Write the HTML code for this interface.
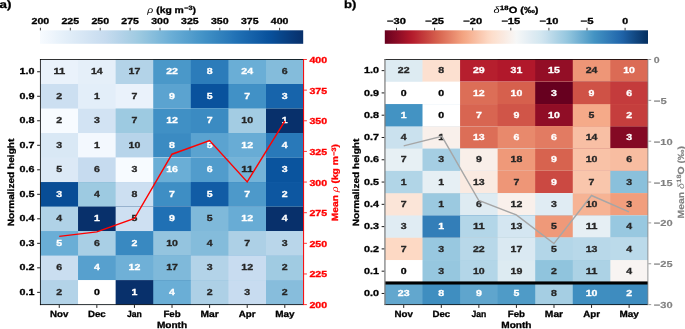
<!DOCTYPE html>
<html lang="en"><head><meta charset="utf-8"><title>Heatmaps</title>
<style>
html,body{margin:0;padding:0;background:#fff;}
body{width:685px;height:329px;overflow:hidden;font-family:"Liberation Sans",sans-serif;}
svg{display:block;will-change:transform;transform:translateZ(0);}
text{font-family:"Liberation Sans",sans-serif;text-rendering:geometricPrecision;}
</style></head><body>
<svg width="685" height="329" viewBox="0 0 685 329" font-family="'Liberation Sans', sans-serif" font-weight="bold">
<defs>
<linearGradient id="gB" x1="0" x2="1" y1="0" y2="0">
<stop offset="0.0000" stop-color="#f7fbff"/>
<stop offset="0.0156" stop-color="#f4f9fe"/>
<stop offset="0.0312" stop-color="#f1f7fd"/>
<stop offset="0.0469" stop-color="#eef5fc"/>
<stop offset="0.0625" stop-color="#eaf3fb"/>
<stop offset="0.0781" stop-color="#e7f1fa"/>
<stop offset="0.0938" stop-color="#e4eff9"/>
<stop offset="0.1094" stop-color="#e1edf8"/>
<stop offset="0.1250" stop-color="#deebf7"/>
<stop offset="0.1406" stop-color="#dbe9f6"/>
<stop offset="0.1562" stop-color="#d8e7f5"/>
<stop offset="0.1719" stop-color="#d5e5f4"/>
<stop offset="0.1875" stop-color="#d2e3f3"/>
<stop offset="0.2031" stop-color="#cfe1f2"/>
<stop offset="0.2188" stop-color="#ccdff1"/>
<stop offset="0.2344" stop-color="#c9ddf0"/>
<stop offset="0.2500" stop-color="#c6dbef"/>
<stop offset="0.2656" stop-color="#c1d9ed"/>
<stop offset="0.2812" stop-color="#bcd7eb"/>
<stop offset="0.2969" stop-color="#b7d4ea"/>
<stop offset="0.3125" stop-color="#b2d2e8"/>
<stop offset="0.3281" stop-color="#add0e6"/>
<stop offset="0.3438" stop-color="#a8cee4"/>
<stop offset="0.3594" stop-color="#a3cce3"/>
<stop offset="0.3750" stop-color="#9dcae1"/>
<stop offset="0.3906" stop-color="#97c6df"/>
<stop offset="0.4062" stop-color="#91c3de"/>
<stop offset="0.4219" stop-color="#8abfdd"/>
<stop offset="0.4375" stop-color="#84bcdb"/>
<stop offset="0.4531" stop-color="#7db8da"/>
<stop offset="0.4688" stop-color="#77b5d9"/>
<stop offset="0.4844" stop-color="#71b1d7"/>
<stop offset="0.5000" stop-color="#6aaed6"/>
<stop offset="0.5156" stop-color="#65aad4"/>
<stop offset="0.5312" stop-color="#60a7d2"/>
<stop offset="0.5469" stop-color="#5ba3d0"/>
<stop offset="0.5625" stop-color="#56a0ce"/>
<stop offset="0.5781" stop-color="#519ccc"/>
<stop offset="0.5938" stop-color="#4b98ca"/>
<stop offset="0.6094" stop-color="#4695c8"/>
<stop offset="0.6250" stop-color="#4191c6"/>
<stop offset="0.6406" stop-color="#3d8dc4"/>
<stop offset="0.6562" stop-color="#3989c1"/>
<stop offset="0.6719" stop-color="#3585bf"/>
<stop offset="0.6875" stop-color="#3181bd"/>
<stop offset="0.7031" stop-color="#2d7dbb"/>
<stop offset="0.7188" stop-color="#2979b9"/>
<stop offset="0.7344" stop-color="#2474b7"/>
<stop offset="0.7500" stop-color="#2070b4"/>
<stop offset="0.7656" stop-color="#1d6cb1"/>
<stop offset="0.7812" stop-color="#1a68ae"/>
<stop offset="0.7969" stop-color="#1764ab"/>
<stop offset="0.8125" stop-color="#1460a8"/>
<stop offset="0.8281" stop-color="#115ca5"/>
<stop offset="0.8438" stop-color="#0e58a2"/>
<stop offset="0.8594" stop-color="#0a549e"/>
<stop offset="0.8750" stop-color="#08509b"/>
<stop offset="0.8906" stop-color="#084c95"/>
<stop offset="0.9062" stop-color="#08488e"/>
<stop offset="0.9219" stop-color="#084488"/>
<stop offset="0.9375" stop-color="#084082"/>
<stop offset="0.9531" stop-color="#083b7c"/>
<stop offset="0.9688" stop-color="#083776"/>
<stop offset="0.9844" stop-color="#083370"/>
<stop offset="1.0000" stop-color="#08306b"/>
</linearGradient>
<linearGradient id="gR" x1="0" x2="1" y1="0" y2="0">
<stop offset="0.0000" stop-color="#67001f"/>
<stop offset="0.0156" stop-color="#730421"/>
<stop offset="0.0312" stop-color="#7f0823"/>
<stop offset="0.0469" stop-color="#8a0b25"/>
<stop offset="0.0625" stop-color="#960f27"/>
<stop offset="0.0781" stop-color="#a21328"/>
<stop offset="0.0938" stop-color="#ae172a"/>
<stop offset="0.1094" stop-color="#b61f2e"/>
<stop offset="0.1250" stop-color="#bb2a34"/>
<stop offset="0.1406" stop-color="#c13639"/>
<stop offset="0.1562" stop-color="#c6413e"/>
<stop offset="0.1719" stop-color="#cc4c44"/>
<stop offset="0.1875" stop-color="#d25849"/>
<stop offset="0.2031" stop-color="#d7634f"/>
<stop offset="0.2188" stop-color="#dc6e57"/>
<stop offset="0.2344" stop-color="#e17860"/>
<stop offset="0.2500" stop-color="#e58368"/>
<stop offset="0.2656" stop-color="#ea8e70"/>
<stop offset="0.2812" stop-color="#ef9979"/>
<stop offset="0.2969" stop-color="#f3a481"/>
<stop offset="0.3125" stop-color="#f5ac8b"/>
<stop offset="0.3281" stop-color="#f7b596"/>
<stop offset="0.3438" stop-color="#f8bda1"/>
<stop offset="0.3594" stop-color="#f9c6ac"/>
<stop offset="0.3750" stop-color="#fbceb7"/>
<stop offset="0.3906" stop-color="#fcd7c2"/>
<stop offset="0.4062" stop-color="#fdddcb"/>
<stop offset="0.4219" stop-color="#fce2d2"/>
<stop offset="0.4375" stop-color="#fbe6da"/>
<stop offset="0.4531" stop-color="#faeae1"/>
<stop offset="0.4688" stop-color="#f9efe9"/>
<stop offset="0.4844" stop-color="#f8f3f0"/>
<stop offset="0.5000" stop-color="#f6f7f7"/>
<stop offset="0.5156" stop-color="#f0f4f6"/>
<stop offset="0.5312" stop-color="#eaf1f5"/>
<stop offset="0.5469" stop-color="#e4eef4"/>
<stop offset="0.5625" stop-color="#deebf2"/>
<stop offset="0.5781" stop-color="#d8e9f1"/>
<stop offset="0.5938" stop-color="#d2e6f0"/>
<stop offset="0.6094" stop-color="#cae1ee"/>
<stop offset="0.6250" stop-color="#c0dceb"/>
<stop offset="0.6406" stop-color="#b6d7e8"/>
<stop offset="0.6562" stop-color="#acd2e5"/>
<stop offset="0.6719" stop-color="#a2cde3"/>
<stop offset="0.6875" stop-color="#98c8e0"/>
<stop offset="0.7031" stop-color="#8dc2dc"/>
<stop offset="0.7188" stop-color="#81bad8"/>
<stop offset="0.7344" stop-color="#75b2d4"/>
<stop offset="0.7500" stop-color="#68abd0"/>
<stop offset="0.7656" stop-color="#5ca3cb"/>
<stop offset="0.7812" stop-color="#4f9bc7"/>
<stop offset="0.7969" stop-color="#4393c3"/>
<stop offset="0.8125" stop-color="#3e8cbf"/>
<stop offset="0.8281" stop-color="#3885bc"/>
<stop offset="0.8438" stop-color="#337eb8"/>
<stop offset="0.8594" stop-color="#2e77b5"/>
<stop offset="0.8750" stop-color="#2870b1"/>
<stop offset="0.8906" stop-color="#2369ad"/>
<stop offset="0.9062" stop-color="#1e61a5"/>
<stop offset="0.9219" stop-color="#1a5899"/>
<stop offset="0.9375" stop-color="#15508d"/>
<stop offset="0.9531" stop-color="#114781"/>
<stop offset="0.9688" stop-color="#0d3f76"/>
<stop offset="0.9844" stop-color="#08366a"/>
<stop offset="1.0000" stop-color="#053061"/>
</linearGradient>
</defs>
<rect width="685" height="329" fill="#fff"/>
<rect x="40.45" y="59.50" width="263.15" height="245.10" fill="#eaf2fb"/>
<rect x="78.04" y="59.50" width="225.56" height="245.10" fill="#e5eff9"/>
<rect x="115.64" y="59.50" width="187.96" height="245.10" fill="#b3d3e8"/>
<rect x="153.23" y="59.50" width="150.37" height="245.10" fill="#4a98c9"/>
<rect x="190.82" y="59.50" width="112.78" height="245.10" fill="#2c7cba"/>
<rect x="228.41" y="59.50" width="75.19" height="245.10" fill="#6aaed6"/>
<rect x="266.01" y="59.50" width="37.59" height="245.10" fill="#84bcdb"/>
<rect x="40.45" y="84.01" width="263.15" height="220.59" fill="#ccdff1"/>
<rect x="78.04" y="84.01" width="225.56" height="220.59" fill="#e3eef9"/>
<rect x="115.64" y="84.01" width="187.96" height="220.59" fill="#eaf2fb"/>
<rect x="153.23" y="84.01" width="150.37" height="220.59" fill="#5ba3d0"/>
<rect x="190.82" y="84.01" width="112.78" height="220.59" fill="#09529d"/>
<rect x="228.41" y="84.01" width="75.19" height="220.59" fill="#4191c6"/>
<rect x="266.01" y="84.01" width="37.59" height="220.59" fill="#1764ab"/>
<rect x="40.45" y="108.52" width="263.15" height="196.08" fill="#f7fbff"/>
<rect x="78.04" y="108.52" width="225.56" height="196.08" fill="#d2e3f3"/>
<rect x="115.64" y="108.52" width="187.96" height="196.08" fill="#9dcae1"/>
<rect x="153.23" y="108.52" width="150.37" height="196.08" fill="#4090c5"/>
<rect x="190.82" y="108.52" width="112.78" height="196.08" fill="#3b8bc2"/>
<rect x="228.41" y="108.52" width="75.19" height="196.08" fill="#a3cce3"/>
<rect x="266.01" y="108.52" width="37.59" height="196.08" fill="#08306b"/>
<rect x="40.45" y="133.03" width="263.15" height="171.57" fill="#d9e8f5"/>
<rect x="78.04" y="133.03" width="225.56" height="171.57" fill="#f3f8fe"/>
<rect x="115.64" y="133.03" width="187.96" height="171.57" fill="#b7d4ea"/>
<rect x="153.23" y="133.03" width="150.37" height="171.57" fill="#3b8bc2"/>
<rect x="190.82" y="133.03" width="112.78" height="171.57" fill="#5ba3d0"/>
<rect x="228.41" y="133.03" width="75.19" height="171.57" fill="#68acd5"/>
<rect x="266.01" y="133.03" width="37.59" height="171.57" fill="#2979b9"/>
<rect x="40.45" y="157.54" width="263.15" height="147.06" fill="#dce9f6"/>
<rect x="78.04" y="157.54" width="225.56" height="147.06" fill="#c6dbef"/>
<rect x="115.64" y="157.54" width="187.96" height="147.06" fill="#f7fbff"/>
<rect x="153.23" y="157.54" width="150.37" height="147.06" fill="#6aaed6"/>
<rect x="190.82" y="157.54" width="112.78" height="147.06" fill="#519ccc"/>
<rect x="228.41" y="157.54" width="75.19" height="147.06" fill="#74b3d8"/>
<rect x="266.01" y="157.54" width="37.59" height="147.06" fill="#0a549e"/>
<rect x="40.45" y="182.05" width="263.15" height="122.55" fill="#084d96"/>
<rect x="78.04" y="182.05" width="225.56" height="122.55" fill="#9dcae1"/>
<rect x="115.64" y="182.05" width="187.96" height="122.55" fill="#ccdff1"/>
<rect x="153.23" y="182.05" width="150.37" height="122.55" fill="#3e8ec4"/>
<rect x="190.82" y="182.05" width="112.78" height="122.55" fill="#115ca5"/>
<rect x="228.41" y="182.05" width="75.19" height="122.55" fill="#4d99ca"/>
<rect x="266.01" y="182.05" width="37.59" height="122.55" fill="#0d57a1"/>
<rect x="40.45" y="206.56" width="263.15" height="98.04" fill="#b0d2e7"/>
<rect x="78.04" y="206.56" width="225.56" height="98.04" fill="#08306b"/>
<rect x="115.64" y="206.56" width="187.96" height="98.04" fill="#cee0f2"/>
<rect x="153.23" y="206.56" width="150.37" height="98.04" fill="#2070b4"/>
<rect x="190.82" y="206.56" width="112.78" height="98.04" fill="#7fb9da"/>
<rect x="228.41" y="206.56" width="75.19" height="98.04" fill="#68acd5"/>
<rect x="266.01" y="206.56" width="37.59" height="98.04" fill="#08306b"/>
<rect x="40.45" y="231.07" width="263.15" height="73.53" fill="#6aaed6"/>
<rect x="78.04" y="231.07" width="225.56" height="73.53" fill="#a9cfe5"/>
<rect x="115.64" y="231.07" width="187.96" height="73.53" fill="#3989c1"/>
<rect x="153.23" y="231.07" width="150.37" height="73.53" fill="#94c4df"/>
<rect x="190.82" y="231.07" width="112.78" height="73.53" fill="#84bcdb"/>
<rect x="228.41" y="231.07" width="75.19" height="73.53" fill="#add0e6"/>
<rect x="266.01" y="231.07" width="37.59" height="73.53" fill="#b9d6ea"/>
<rect x="40.45" y="255.58" width="263.15" height="49.02" fill="#cadef0"/>
<rect x="78.04" y="255.58" width="225.56" height="49.02" fill="#57a0ce"/>
<rect x="115.64" y="255.58" width="187.96" height="49.02" fill="#6fb0d7"/>
<rect x="153.23" y="255.58" width="150.37" height="49.02" fill="#7fb9da"/>
<rect x="190.82" y="255.58" width="112.78" height="49.02" fill="#b3d3e8"/>
<rect x="228.41" y="255.58" width="75.19" height="49.02" fill="#c8dcf0"/>
<rect x="266.01" y="255.58" width="37.59" height="49.02" fill="#a0cbe2"/>
<rect x="40.45" y="280.09" width="263.15" height="24.51" fill="#b3d3e8"/>
<rect x="78.04" y="280.09" width="225.56" height="24.51" fill="#ffffff"/>
<rect x="115.64" y="280.09" width="187.96" height="24.51" fill="#08306b"/>
<rect x="153.23" y="280.09" width="150.37" height="24.51" fill="#6aaed6"/>
<rect x="190.82" y="280.09" width="112.78" height="24.51" fill="#add0e6"/>
<rect x="228.41" y="280.09" width="75.19" height="24.51" fill="#c8dcf0"/>
<rect x="266.01" y="280.09" width="37.59" height="24.51" fill="#87bddc"/>
<g stroke="#000" stroke-width="0.8" fill="none">
<line x1="40.45" y1="59.00" x2="40.45" y2="305.10"/>
<line x1="39.95" y1="59.50" x2="303.60" y2="59.50"/>
<line x1="39.95" y1="304.60" x2="303.60" y2="304.60"/>
<line x1="37.15" y1="71.75" x2="39.95" y2="71.75" stroke-width="0.9"/>
<line x1="37.15" y1="96.27" x2="39.95" y2="96.27" stroke-width="0.9"/>
<line x1="37.15" y1="120.78" x2="39.95" y2="120.78" stroke-width="0.9"/>
<line x1="37.15" y1="145.29" x2="39.95" y2="145.29" stroke-width="0.9"/>
<line x1="37.15" y1="169.80" x2="39.95" y2="169.80" stroke-width="0.9"/>
<line x1="37.15" y1="194.31" x2="39.95" y2="194.31" stroke-width="0.9"/>
<line x1="37.15" y1="218.81" x2="39.95" y2="218.81" stroke-width="0.9"/>
<line x1="37.15" y1="243.33" x2="39.95" y2="243.33" stroke-width="0.9"/>
<line x1="37.15" y1="267.84" x2="39.95" y2="267.84" stroke-width="0.9"/>
<line x1="37.15" y1="292.35" x2="39.95" y2="292.35" stroke-width="0.9"/>
<line x1="59.25" y1="305.10" x2="59.25" y2="307.90" stroke-width="0.9"/>
<line x1="96.84" y1="305.10" x2="96.84" y2="307.90" stroke-width="0.9"/>
<line x1="134.43" y1="305.10" x2="134.43" y2="307.90" stroke-width="0.9"/>
<line x1="172.03" y1="305.10" x2="172.03" y2="307.90" stroke-width="0.9"/>
<line x1="209.62" y1="305.10" x2="209.62" y2="307.90" stroke-width="0.9"/>
<line x1="247.21" y1="305.10" x2="247.21" y2="307.90" stroke-width="0.9"/>
<line x1="284.80" y1="305.10" x2="284.80" y2="307.90" stroke-width="0.9"/>
</g>
<g stroke="#ff0000" stroke-width="1" fill="none">
<line x1="303.60" y1="59.00" x2="303.60" y2="305.10"/>
<line x1="304.10" y1="304.60" x2="306.90" y2="304.60" stroke-width="0.8"/>
<line x1="304.10" y1="273.96" x2="306.90" y2="273.96" stroke-width="0.8"/>
<line x1="304.10" y1="243.32" x2="306.90" y2="243.32" stroke-width="0.8"/>
<line x1="304.10" y1="212.69" x2="306.90" y2="212.69" stroke-width="0.8"/>
<line x1="304.10" y1="182.05" x2="306.90" y2="182.05" stroke-width="0.8"/>
<line x1="304.10" y1="151.41" x2="306.90" y2="151.41" stroke-width="0.8"/>
<line x1="304.10" y1="120.78" x2="306.90" y2="120.78" stroke-width="0.8"/>
<line x1="304.10" y1="90.14" x2="306.90" y2="90.14" stroke-width="0.8"/>
<line x1="304.10" y1="59.50" x2="306.90" y2="59.50" stroke-width="0.8"/>
</g>
<rect x="384.95" y="59.50" width="262.95" height="245.10" fill="#ddebf2"/>
<rect x="422.51" y="59.50" width="225.39" height="245.10" fill="#fce0d0"/>
<rect x="460.08" y="59.50" width="187.82" height="245.10" fill="#b61f2e"/>
<rect x="497.64" y="59.50" width="150.26" height="245.10" fill="#b1182b"/>
<rect x="535.21" y="59.50" width="112.69" height="245.10" fill="#930e26"/>
<rect x="572.77" y="59.50" width="75.13" height="245.10" fill="#ee9677"/>
<rect x="610.34" y="59.50" width="37.56" height="245.10" fill="#db6b55"/>
<rect x="384.95" y="81.78" width="262.95" height="222.82" fill="#ffffff"/>
<rect x="422.51" y="81.78" width="225.39" height="222.82" fill="#ffffff"/>
<rect x="460.08" y="81.78" width="187.82" height="222.82" fill="#dc6e57"/>
<rect x="497.64" y="81.78" width="150.26" height="222.82" fill="#d6604d"/>
<rect x="535.21" y="81.78" width="112.69" height="222.82" fill="#67001f"/>
<rect x="572.77" y="81.78" width="75.13" height="222.82" fill="#cf5246"/>
<rect x="610.34" y="81.78" width="37.56" height="222.82" fill="#c43b3c"/>
<rect x="384.95" y="104.06" width="262.95" height="200.54" fill="#4393c3"/>
<rect x="422.51" y="104.06" width="225.39" height="200.54" fill="#ffffff"/>
<rect x="460.08" y="104.06" width="187.82" height="200.54" fill="#d86551"/>
<rect x="497.64" y="104.06" width="150.26" height="200.54" fill="#d05548"/>
<rect x="535.21" y="104.06" width="112.69" height="200.54" fill="#900d26"/>
<rect x="572.77" y="104.06" width="75.13" height="200.54" fill="#f5aa89"/>
<rect x="610.34" y="104.06" width="37.56" height="200.54" fill="#c53e3d"/>
<rect x="384.95" y="126.35" width="262.95" height="178.25" fill="#cae1ee"/>
<rect x="422.51" y="126.35" width="225.39" height="178.25" fill="#f9f0eb"/>
<rect x="460.08" y="126.35" width="187.82" height="178.25" fill="#dc6e57"/>
<rect x="497.64" y="126.35" width="150.26" height="178.25" fill="#e8896c"/>
<rect x="535.21" y="126.35" width="112.69" height="178.25" fill="#e27b62"/>
<rect x="572.77" y="126.35" width="75.13" height="178.25" fill="#f8bfa4"/>
<rect x="610.34" y="126.35" width="37.56" height="178.25" fill="#840924"/>
<rect x="384.95" y="148.63" width="262.95" height="155.97" fill="#e7f0f4"/>
<rect x="422.51" y="148.63" width="225.39" height="155.97" fill="#a5cee3"/>
<rect x="460.08" y="148.63" width="187.82" height="155.97" fill="#f9efe9"/>
<rect x="497.64" y="148.63" width="150.26" height="155.97" fill="#ef9979"/>
<rect x="535.21" y="148.63" width="112.69" height="155.97" fill="#d7634f"/>
<rect x="572.77" y="148.63" width="75.13" height="155.97" fill="#f9c2a7"/>
<rect x="610.34" y="148.63" width="37.56" height="155.97" fill="#f8bda1"/>
<rect x="384.95" y="170.91" width="262.95" height="133.69" fill="#b1d5e7"/>
<rect x="422.51" y="170.91" width="225.39" height="133.69" fill="#e6eff4"/>
<rect x="460.08" y="170.91" width="187.82" height="133.69" fill="#faeae1"/>
<rect x="497.64" y="170.91" width="150.26" height="133.69" fill="#ee9677"/>
<rect x="535.21" y="170.91" width="112.69" height="133.69" fill="#cb4942"/>
<rect x="572.77" y="170.91" width="75.13" height="133.69" fill="#f9c6ac"/>
<rect x="610.34" y="170.91" width="37.56" height="133.69" fill="#8ac0db"/>
<rect x="384.95" y="193.19" width="262.95" height="111.41" fill="#fbe5d8"/>
<rect x="422.51" y="193.19" width="225.39" height="111.41" fill="#9bc9e0"/>
<rect x="460.08" y="193.19" width="187.82" height="111.41" fill="#deebf2"/>
<rect x="497.64" y="193.19" width="150.26" height="111.41" fill="#f9f0eb"/>
<rect x="535.21" y="193.19" width="112.69" height="111.41" fill="#e0ecf3"/>
<rect x="572.77" y="193.19" width="75.13" height="111.41" fill="#f6b394"/>
<rect x="610.34" y="193.19" width="37.56" height="111.41" fill="#f19e7d"/>
<rect x="384.95" y="215.47" width="262.95" height="89.13" fill="#e0ecf3"/>
<rect x="422.51" y="215.47" width="225.39" height="89.13" fill="#337eb8"/>
<rect x="460.08" y="215.47" width="187.82" height="89.13" fill="#b3d6e8"/>
<rect x="497.64" y="215.47" width="150.26" height="89.13" fill="#d4e6f1"/>
<rect x="535.21" y="215.47" width="112.69" height="89.13" fill="#ef9979"/>
<rect x="572.77" y="215.47" width="75.13" height="89.13" fill="#e6eff4"/>
<rect x="610.34" y="215.47" width="37.56" height="89.13" fill="#98c8e0"/>
<rect x="384.95" y="237.75" width="262.95" height="66.85" fill="#fdd9c4"/>
<rect x="422.51" y="237.75" width="225.39" height="66.85" fill="#98c8e0"/>
<rect x="460.08" y="237.75" width="187.82" height="66.85" fill="#b8d8e9"/>
<rect x="497.64" y="237.75" width="150.26" height="66.85" fill="#dae9f2"/>
<rect x="535.21" y="237.75" width="112.69" height="66.85" fill="#b3d6e8"/>
<rect x="572.77" y="237.75" width="75.13" height="66.85" fill="#b8d8e9"/>
<rect x="610.34" y="237.75" width="37.56" height="66.85" fill="#bbdaea"/>
<rect x="384.95" y="260.04" width="262.95" height="44.56" fill="#ffffff"/>
<rect x="422.51" y="260.04" width="225.39" height="44.56" fill="#96c7df"/>
<rect x="460.08" y="260.04" width="187.82" height="44.56" fill="#b3d6e8"/>
<rect x="497.64" y="260.04" width="150.26" height="44.56" fill="#ddebf2"/>
<rect x="535.21" y="260.04" width="112.69" height="44.56" fill="#90c4dd"/>
<rect x="572.77" y="260.04" width="75.13" height="44.56" fill="#acd2e5"/>
<rect x="610.34" y="260.04" width="37.56" height="44.56" fill="#f8f4f2"/>
<rect x="384.95" y="282.32" width="262.95" height="22.28" fill="#62a7ce"/>
<rect x="422.51" y="282.32" width="225.39" height="22.28" fill="#3f8ec0"/>
<rect x="460.08" y="282.32" width="187.82" height="22.28" fill="#5fa5cd"/>
<rect x="497.64" y="282.32" width="150.26" height="22.28" fill="#4f9bc7"/>
<rect x="535.21" y="282.32" width="112.69" height="22.28" fill="#a5cee3"/>
<rect x="572.77" y="282.32" width="75.13" height="22.28" fill="#3f8ec0"/>
<rect x="610.34" y="282.32" width="37.56" height="22.28" fill="#3e8cbf"/>
<rect x="384.95" y="281.42" width="262.95" height="3.1" fill="#000"/>
<g stroke="#000" stroke-width="0.8" fill="none">
<line x1="384.45" y1="59.50" x2="647.90" y2="59.50"/>
<line x1="384.45" y1="304.60" x2="647.90" y2="304.60"/>
<line x1="381.65" y1="70.64" x2="384.45" y2="70.64" stroke-width="0.9"/>
<line x1="381.65" y1="92.92" x2="384.45" y2="92.92" stroke-width="0.9"/>
<line x1="381.65" y1="115.20" x2="384.45" y2="115.20" stroke-width="0.9"/>
<line x1="381.65" y1="137.49" x2="384.45" y2="137.49" stroke-width="0.9"/>
<line x1="381.65" y1="159.77" x2="384.45" y2="159.77" stroke-width="0.9"/>
<line x1="381.65" y1="182.05" x2="384.45" y2="182.05" stroke-width="0.9"/>
<line x1="381.65" y1="204.33" x2="384.45" y2="204.33" stroke-width="0.9"/>
<line x1="381.65" y1="226.61" x2="384.45" y2="226.61" stroke-width="0.9"/>
<line x1="381.65" y1="248.90" x2="384.45" y2="248.90" stroke-width="0.9"/>
<line x1="381.65" y1="271.18" x2="384.45" y2="271.18" stroke-width="0.9"/>
<line x1="381.65" y1="293.46" x2="384.45" y2="293.46" stroke-width="0.9"/>
<line x1="403.73" y1="305.10" x2="403.73" y2="307.90" stroke-width="0.9"/>
<line x1="441.30" y1="305.10" x2="441.30" y2="307.90" stroke-width="0.9"/>
<line x1="478.86" y1="305.10" x2="478.86" y2="307.90" stroke-width="0.9"/>
<line x1="516.42" y1="305.10" x2="516.42" y2="307.90" stroke-width="0.9"/>
<line x1="553.99" y1="305.10" x2="553.99" y2="307.90" stroke-width="0.9"/>
<line x1="591.55" y1="305.10" x2="591.55" y2="307.90" stroke-width="0.9"/>
<line x1="629.12" y1="305.10" x2="629.12" y2="307.90" stroke-width="0.9"/>
</g>
<g stroke="#808080" stroke-width="0.8" fill="none">
<line x1="647.90" y1="59.00" x2="647.90" y2="305.10"/>
<line x1="648.40" y1="304.60" x2="651.20" y2="304.60" stroke-width="0.8"/>
<line x1="648.40" y1="263.75" x2="651.20" y2="263.75" stroke-width="0.8"/>
<line x1="648.40" y1="222.90" x2="651.20" y2="222.90" stroke-width="0.8"/>
<line x1="648.40" y1="182.05" x2="651.20" y2="182.05" stroke-width="0.8"/>
<line x1="648.40" y1="141.20" x2="651.20" y2="141.20" stroke-width="0.8"/>
<line x1="648.40" y1="100.35" x2="651.20" y2="100.35" stroke-width="0.8"/>
<line x1="648.40" y1="59.50" x2="651.20" y2="59.50" stroke-width="0.8"/>
</g>
<line x1="384.95" y1="59.00" x2="384.95" y2="305.10" stroke="#7a7a7a" stroke-width="1.2"/>
<rect x="40.00" y="30.3" width="263.20" height="13.5" fill="url(#gB)"/>
<line x1="40.40" y1="27.8" x2="40.40" y2="30.4" stroke="#000" stroke-width="0.75"/>
<text transform="translate(40.40,23.75) scale(1.2151,1)" text-anchor="middle" font-size="8.70" fill="#000" stroke="#000" stroke-width="0.3">200</text>
<line x1="70.30" y1="27.8" x2="70.30" y2="30.4" stroke="#000" stroke-width="0.75"/>
<text transform="translate(70.30,23.75) scale(1.2151,1)" text-anchor="middle" font-size="8.70" fill="#000" stroke="#000" stroke-width="0.3">225</text>
<line x1="100.20" y1="27.8" x2="100.20" y2="30.4" stroke="#000" stroke-width="0.75"/>
<text transform="translate(100.20,23.75) scale(1.2151,1)" text-anchor="middle" font-size="8.70" fill="#000" stroke="#000" stroke-width="0.3">250</text>
<line x1="130.10" y1="27.8" x2="130.10" y2="30.4" stroke="#000" stroke-width="0.75"/>
<text transform="translate(130.10,23.75) scale(1.2151,1)" text-anchor="middle" font-size="8.70" fill="#000" stroke="#000" stroke-width="0.3">275</text>
<line x1="160.00" y1="27.8" x2="160.00" y2="30.4" stroke="#000" stroke-width="0.75"/>
<text transform="translate(160.00,23.75) scale(1.2151,1)" text-anchor="middle" font-size="8.70" fill="#000" stroke="#000" stroke-width="0.3">300</text>
<line x1="189.90" y1="27.8" x2="189.90" y2="30.4" stroke="#000" stroke-width="0.75"/>
<text transform="translate(189.90,23.75) scale(1.2151,1)" text-anchor="middle" font-size="8.70" fill="#000" stroke="#000" stroke-width="0.3">325</text>
<line x1="219.80" y1="27.8" x2="219.80" y2="30.4" stroke="#000" stroke-width="0.75"/>
<text transform="translate(219.80,23.75) scale(1.2151,1)" text-anchor="middle" font-size="8.70" fill="#000" stroke="#000" stroke-width="0.3">350</text>
<line x1="249.70" y1="27.8" x2="249.70" y2="30.4" stroke="#000" stroke-width="0.75"/>
<text transform="translate(249.70,23.75) scale(1.2151,1)" text-anchor="middle" font-size="8.70" fill="#000" stroke="#000" stroke-width="0.3">375</text>
<line x1="279.60" y1="27.8" x2="279.60" y2="30.4" stroke="#000" stroke-width="0.75"/>
<text transform="translate(279.60,23.75) scale(1.2151,1)" text-anchor="middle" font-size="8.70" fill="#000" stroke="#000" stroke-width="0.3">400</text>
<rect x="384.80" y="30.3" width="263.20" height="13.5" fill="url(#gR)"/>
<line x1="396.50" y1="27.8" x2="396.50" y2="30.4" stroke="#000" stroke-width="0.75"/>
<text transform="translate(396.50,23.75) scale(1.2765,1)" text-anchor="middle" font-size="8.70" fill="#000" stroke="#000" stroke-width="0.3">−30</text>
<line x1="434.60" y1="27.8" x2="434.60" y2="30.4" stroke="#000" stroke-width="0.75"/>
<text transform="translate(434.60,23.75) scale(1.2765,1)" text-anchor="middle" font-size="8.70" fill="#000" stroke="#000" stroke-width="0.3">−25</text>
<line x1="472.70" y1="27.8" x2="472.70" y2="30.4" stroke="#000" stroke-width="0.75"/>
<text transform="translate(472.70,23.75) scale(1.2765,1)" text-anchor="middle" font-size="8.70" fill="#000" stroke="#000" stroke-width="0.3">−20</text>
<line x1="510.80" y1="27.8" x2="510.80" y2="30.4" stroke="#000" stroke-width="0.75"/>
<text transform="translate(510.80,23.75) scale(1.2765,1)" text-anchor="middle" font-size="8.70" fill="#000" stroke="#000" stroke-width="0.3">−15</text>
<line x1="548.90" y1="27.8" x2="548.90" y2="30.4" stroke="#000" stroke-width="0.75"/>
<text transform="translate(548.90,23.75) scale(1.2765,1)" text-anchor="middle" font-size="8.70" fill="#000" stroke="#000" stroke-width="0.3">−10</text>
<line x1="587.00" y1="27.8" x2="587.00" y2="30.4" stroke="#000" stroke-width="0.75"/>
<text transform="translate(587.00,23.75) scale(1.3065,1)" text-anchor="middle" font-size="8.70" fill="#000" stroke="#000" stroke-width="0.3">−5</text>
<line x1="625.10" y1="27.8" x2="625.10" y2="30.4" stroke="#000" stroke-width="0.75"/>
<text transform="translate(625.10,23.75) scale(1.2151,1)" text-anchor="middle" font-size="8.70" fill="#000" stroke="#000" stroke-width="0.3">0</text>
<text transform="translate(59.25,74.35) scale(1.2785,1)" text-anchor="middle" font-size="8.70" fill="#262626" stroke="#262626" stroke-width="0.3">11</text>
<text transform="translate(96.84,74.35) scale(1.2151,1)" text-anchor="middle" font-size="8.70" fill="#262626" stroke="#262626" stroke-width="0.3">14</text>
<text transform="translate(134.43,74.35) scale(1.2151,1)" text-anchor="middle" font-size="8.70" fill="#262626" stroke="#262626" stroke-width="0.3">17</text>
<text transform="translate(172.03,74.35) scale(1.2151,1)" text-anchor="middle" font-size="8.70" fill="#fff" stroke="#fff" stroke-width="0.3">22</text>
<text transform="translate(209.62,74.35) scale(1.2151,1)" text-anchor="middle" font-size="8.70" fill="#fff" stroke="#fff" stroke-width="0.3">8</text>
<text transform="translate(247.21,74.35) scale(1.2151,1)" text-anchor="middle" font-size="8.70" fill="#fff" stroke="#fff" stroke-width="0.3">24</text>
<text transform="translate(284.80,74.35) scale(1.2151,1)" text-anchor="middle" font-size="8.70" fill="#262626" stroke="#262626" stroke-width="0.3">6</text>
<text transform="translate(59.25,98.86) scale(1.2151,1)" text-anchor="middle" font-size="8.70" fill="#262626" stroke="#262626" stroke-width="0.3">2</text>
<text transform="translate(96.84,98.86) scale(1.2151,1)" text-anchor="middle" font-size="8.70" fill="#262626" stroke="#262626" stroke-width="0.3">1</text>
<text transform="translate(134.43,98.86) scale(1.2151,1)" text-anchor="middle" font-size="8.70" fill="#262626" stroke="#262626" stroke-width="0.3">7</text>
<text transform="translate(172.03,98.86) scale(1.2151,1)" text-anchor="middle" font-size="8.70" fill="#fff" stroke="#fff" stroke-width="0.3">9</text>
<text transform="translate(209.62,98.86) scale(1.2151,1)" text-anchor="middle" font-size="8.70" fill="#fff" stroke="#fff" stroke-width="0.3">5</text>
<text transform="translate(247.21,98.86) scale(1.2151,1)" text-anchor="middle" font-size="8.70" fill="#fff" stroke="#fff" stroke-width="0.3">7</text>
<text transform="translate(284.80,98.86) scale(1.2151,1)" text-anchor="middle" font-size="8.70" fill="#fff" stroke="#fff" stroke-width="0.3">3</text>
<text transform="translate(59.25,123.38) scale(1.2151,1)" text-anchor="middle" font-size="8.70" fill="#262626" stroke="#262626" stroke-width="0.3">2</text>
<text transform="translate(96.84,123.38) scale(1.2151,1)" text-anchor="middle" font-size="8.70" fill="#262626" stroke="#262626" stroke-width="0.3">3</text>
<text transform="translate(134.43,123.38) scale(1.2151,1)" text-anchor="middle" font-size="8.70" fill="#262626" stroke="#262626" stroke-width="0.3">7</text>
<text transform="translate(172.03,123.38) scale(1.2151,1)" text-anchor="middle" font-size="8.70" fill="#fff" stroke="#fff" stroke-width="0.3">12</text>
<text transform="translate(209.62,123.38) scale(1.2151,1)" text-anchor="middle" font-size="8.70" fill="#fff" stroke="#fff" stroke-width="0.3">7</text>
<text transform="translate(247.21,123.38) scale(1.2151,1)" text-anchor="middle" font-size="8.70" fill="#262626" stroke="#262626" stroke-width="0.3">10</text>
<text transform="translate(284.80,123.38) scale(1.2151,1)" text-anchor="middle" font-size="8.70" fill="#fff" stroke="#fff" stroke-width="0.3">1</text>
<text transform="translate(59.25,147.89) scale(1.2151,1)" text-anchor="middle" font-size="8.70" fill="#262626" stroke="#262626" stroke-width="0.3">3</text>
<text transform="translate(96.84,147.89) scale(1.2151,1)" text-anchor="middle" font-size="8.70" fill="#262626" stroke="#262626" stroke-width="0.3">1</text>
<text transform="translate(134.43,147.89) scale(1.2151,1)" text-anchor="middle" font-size="8.70" fill="#262626" stroke="#262626" stroke-width="0.3">10</text>
<text transform="translate(172.03,147.89) scale(1.2151,1)" text-anchor="middle" font-size="8.70" fill="#fff" stroke="#fff" stroke-width="0.3">8</text>
<text transform="translate(209.62,147.89) scale(1.2151,1)" text-anchor="middle" font-size="8.70" fill="#fff" stroke="#fff" stroke-width="0.3">5</text>
<text transform="translate(247.21,147.89) scale(1.2151,1)" text-anchor="middle" font-size="8.70" fill="#fff" stroke="#fff" stroke-width="0.3">12</text>
<text transform="translate(284.80,147.89) scale(1.2151,1)" text-anchor="middle" font-size="8.70" fill="#fff" stroke="#fff" stroke-width="0.3">4</text>
<text transform="translate(59.25,172.40) scale(1.2151,1)" text-anchor="middle" font-size="8.70" fill="#262626" stroke="#262626" stroke-width="0.3">5</text>
<text transform="translate(96.84,172.40) scale(1.2151,1)" text-anchor="middle" font-size="8.70" fill="#262626" stroke="#262626" stroke-width="0.3">6</text>
<text transform="translate(134.43,172.40) scale(1.2151,1)" text-anchor="middle" font-size="8.70" fill="#262626" stroke="#262626" stroke-width="0.3">3</text>
<text transform="translate(172.03,172.40) scale(1.2151,1)" text-anchor="middle" font-size="8.70" fill="#fff" stroke="#fff" stroke-width="0.3">16</text>
<text transform="translate(209.62,172.40) scale(1.2151,1)" text-anchor="middle" font-size="8.70" fill="#fff" stroke="#fff" stroke-width="0.3">6</text>
<text transform="translate(247.21,172.40) scale(1.2785,1)" text-anchor="middle" font-size="8.70" fill="#262626" stroke="#262626" stroke-width="0.3">11</text>
<text transform="translate(284.80,172.40) scale(1.2151,1)" text-anchor="middle" font-size="8.70" fill="#fff" stroke="#fff" stroke-width="0.3">3</text>
<text transform="translate(59.25,196.91) scale(1.2151,1)" text-anchor="middle" font-size="8.70" fill="#fff" stroke="#fff" stroke-width="0.3">3</text>
<text transform="translate(96.84,196.91) scale(1.2151,1)" text-anchor="middle" font-size="8.70" fill="#262626" stroke="#262626" stroke-width="0.3">4</text>
<text transform="translate(134.43,196.91) scale(1.2151,1)" text-anchor="middle" font-size="8.70" fill="#262626" stroke="#262626" stroke-width="0.3">8</text>
<text transform="translate(172.03,196.91) scale(1.2151,1)" text-anchor="middle" font-size="8.70" fill="#fff" stroke="#fff" stroke-width="0.3">7</text>
<text transform="translate(209.62,196.91) scale(1.2151,1)" text-anchor="middle" font-size="8.70" fill="#fff" stroke="#fff" stroke-width="0.3">5</text>
<text transform="translate(247.21,196.91) scale(1.2151,1)" text-anchor="middle" font-size="8.70" fill="#fff" stroke="#fff" stroke-width="0.3">7</text>
<text transform="translate(284.80,196.91) scale(1.2151,1)" text-anchor="middle" font-size="8.70" fill="#fff" stroke="#fff" stroke-width="0.3">2</text>
<text transform="translate(59.25,221.41) scale(1.2151,1)" text-anchor="middle" font-size="8.70" fill="#262626" stroke="#262626" stroke-width="0.3">4</text>
<text transform="translate(96.84,221.41) scale(1.2151,1)" text-anchor="middle" font-size="8.70" fill="#fff" stroke="#fff" stroke-width="0.3">1</text>
<text transform="translate(134.43,221.41) scale(1.2151,1)" text-anchor="middle" font-size="8.70" fill="#262626" stroke="#262626" stroke-width="0.3">5</text>
<text transform="translate(172.03,221.41) scale(1.2151,1)" text-anchor="middle" font-size="8.70" fill="#fff" stroke="#fff" stroke-width="0.3">9</text>
<text transform="translate(209.62,221.41) scale(1.2151,1)" text-anchor="middle" font-size="8.70" fill="#262626" stroke="#262626" stroke-width="0.3">5</text>
<text transform="translate(247.21,221.41) scale(1.2151,1)" text-anchor="middle" font-size="8.70" fill="#fff" stroke="#fff" stroke-width="0.3">12</text>
<text transform="translate(284.80,221.41) scale(1.2151,1)" text-anchor="middle" font-size="8.70" fill="#fff" stroke="#fff" stroke-width="0.3">4</text>
<text transform="translate(59.25,245.93) scale(1.2151,1)" text-anchor="middle" font-size="8.70" fill="#fff" stroke="#fff" stroke-width="0.3">5</text>
<text transform="translate(96.84,245.93) scale(1.2151,1)" text-anchor="middle" font-size="8.70" fill="#262626" stroke="#262626" stroke-width="0.3">6</text>
<text transform="translate(134.43,245.93) scale(1.2151,1)" text-anchor="middle" font-size="8.70" fill="#fff" stroke="#fff" stroke-width="0.3">2</text>
<text transform="translate(172.03,245.93) scale(1.2151,1)" text-anchor="middle" font-size="8.70" fill="#262626" stroke="#262626" stroke-width="0.3">10</text>
<text transform="translate(209.62,245.93) scale(1.2151,1)" text-anchor="middle" font-size="8.70" fill="#262626" stroke="#262626" stroke-width="0.3">4</text>
<text transform="translate(247.21,245.93) scale(1.2151,1)" text-anchor="middle" font-size="8.70" fill="#262626" stroke="#262626" stroke-width="0.3">7</text>
<text transform="translate(284.80,245.93) scale(1.2151,1)" text-anchor="middle" font-size="8.70" fill="#262626" stroke="#262626" stroke-width="0.3">3</text>
<text transform="translate(59.25,270.44) scale(1.2151,1)" text-anchor="middle" font-size="8.70" fill="#262626" stroke="#262626" stroke-width="0.3">6</text>
<text transform="translate(96.84,270.44) scale(1.2151,1)" text-anchor="middle" font-size="8.70" fill="#fff" stroke="#fff" stroke-width="0.3">4</text>
<text transform="translate(134.43,270.44) scale(1.2151,1)" text-anchor="middle" font-size="8.70" fill="#fff" stroke="#fff" stroke-width="0.3">12</text>
<text transform="translate(172.03,270.44) scale(1.2151,1)" text-anchor="middle" font-size="8.70" fill="#262626" stroke="#262626" stroke-width="0.3">17</text>
<text transform="translate(209.62,270.44) scale(1.2151,1)" text-anchor="middle" font-size="8.70" fill="#262626" stroke="#262626" stroke-width="0.3">3</text>
<text transform="translate(247.21,270.44) scale(1.2151,1)" text-anchor="middle" font-size="8.70" fill="#262626" stroke="#262626" stroke-width="0.3">12</text>
<text transform="translate(284.80,270.44) scale(1.2151,1)" text-anchor="middle" font-size="8.70" fill="#262626" stroke="#262626" stroke-width="0.3">2</text>
<text transform="translate(59.25,294.95) scale(1.2151,1)" text-anchor="middle" font-size="8.70" fill="#262626" stroke="#262626" stroke-width="0.3">2</text>
<text transform="translate(96.84,294.95) scale(1.2151,1)" text-anchor="middle" font-size="8.70" fill="#000" stroke="#000" stroke-width="0.3">0</text>
<text transform="translate(134.43,294.95) scale(1.2151,1)" text-anchor="middle" font-size="8.70" fill="#fff" stroke="#fff" stroke-width="0.3">1</text>
<text transform="translate(172.03,294.95) scale(1.2151,1)" text-anchor="middle" font-size="8.70" fill="#fff" stroke="#fff" stroke-width="0.3">4</text>
<text transform="translate(209.62,294.95) scale(1.2151,1)" text-anchor="middle" font-size="8.70" fill="#262626" stroke="#262626" stroke-width="0.3">2</text>
<text transform="translate(247.21,294.95) scale(1.2151,1)" text-anchor="middle" font-size="8.70" fill="#262626" stroke="#262626" stroke-width="0.3">3</text>
<text transform="translate(284.80,294.95) scale(1.2151,1)" text-anchor="middle" font-size="8.70" fill="#262626" stroke="#262626" stroke-width="0.3">2</text>
<text transform="translate(403.73,73.24) scale(1.2151,1)" text-anchor="middle" font-size="8.70" fill="#262626" stroke="#262626" stroke-width="0.3">22</text>
<text transform="translate(441.30,73.24) scale(1.2151,1)" text-anchor="middle" font-size="8.70" fill="#262626" stroke="#262626" stroke-width="0.3">8</text>
<text transform="translate(478.86,73.24) scale(1.2151,1)" text-anchor="middle" font-size="8.70" fill="#fff" stroke="#fff" stroke-width="0.3">29</text>
<text transform="translate(516.42,73.24) scale(1.2151,1)" text-anchor="middle" font-size="8.70" fill="#fff" stroke="#fff" stroke-width="0.3">31</text>
<text transform="translate(553.99,73.24) scale(1.2151,1)" text-anchor="middle" font-size="8.70" fill="#fff" stroke="#fff" stroke-width="0.3">15</text>
<text transform="translate(591.55,73.24) scale(1.2151,1)" text-anchor="middle" font-size="8.70" fill="#262626" stroke="#262626" stroke-width="0.3">24</text>
<text transform="translate(629.12,73.24) scale(1.2151,1)" text-anchor="middle" font-size="8.70" fill="#fff" stroke="#fff" stroke-width="0.3">10</text>
<text transform="translate(403.73,95.52) scale(1.2151,1)" text-anchor="middle" font-size="8.70" fill="#000" stroke="#000" stroke-width="0.3">0</text>
<text transform="translate(441.30,95.52) scale(1.2151,1)" text-anchor="middle" font-size="8.70" fill="#000" stroke="#000" stroke-width="0.3">0</text>
<text transform="translate(478.86,95.52) scale(1.2151,1)" text-anchor="middle" font-size="8.70" fill="#fff" stroke="#fff" stroke-width="0.3">12</text>
<text transform="translate(516.42,95.52) scale(1.2151,1)" text-anchor="middle" font-size="8.70" fill="#fff" stroke="#fff" stroke-width="0.3">10</text>
<text transform="translate(553.99,95.52) scale(1.2151,1)" text-anchor="middle" font-size="8.70" fill="#fff" stroke="#fff" stroke-width="0.3">3</text>
<text transform="translate(591.55,95.52) scale(1.2151,1)" text-anchor="middle" font-size="8.70" fill="#fff" stroke="#fff" stroke-width="0.3">9</text>
<text transform="translate(629.12,95.52) scale(1.2151,1)" text-anchor="middle" font-size="8.70" fill="#fff" stroke="#fff" stroke-width="0.3">6</text>
<text transform="translate(403.73,117.80) scale(1.2151,1)" text-anchor="middle" font-size="8.70" fill="#fff" stroke="#fff" stroke-width="0.3">1</text>
<text transform="translate(441.30,117.80) scale(1.2151,1)" text-anchor="middle" font-size="8.70" fill="#000" stroke="#000" stroke-width="0.3">0</text>
<text transform="translate(478.86,117.80) scale(1.2151,1)" text-anchor="middle" font-size="8.70" fill="#fff" stroke="#fff" stroke-width="0.3">7</text>
<text transform="translate(516.42,117.80) scale(1.2151,1)" text-anchor="middle" font-size="8.70" fill="#fff" stroke="#fff" stroke-width="0.3">9</text>
<text transform="translate(553.99,117.80) scale(1.2151,1)" text-anchor="middle" font-size="8.70" fill="#fff" stroke="#fff" stroke-width="0.3">10</text>
<text transform="translate(591.55,117.80) scale(1.2151,1)" text-anchor="middle" font-size="8.70" fill="#262626" stroke="#262626" stroke-width="0.3">5</text>
<text transform="translate(629.12,117.80) scale(1.2151,1)" text-anchor="middle" font-size="8.70" fill="#fff" stroke="#fff" stroke-width="0.3">2</text>
<text transform="translate(403.73,140.09) scale(1.2151,1)" text-anchor="middle" font-size="8.70" fill="#262626" stroke="#262626" stroke-width="0.3">4</text>
<text transform="translate(441.30,140.09) scale(1.2151,1)" text-anchor="middle" font-size="8.70" fill="#262626" stroke="#262626" stroke-width="0.3">1</text>
<text transform="translate(478.86,140.09) scale(1.2151,1)" text-anchor="middle" font-size="8.70" fill="#fff" stroke="#fff" stroke-width="0.3">13</text>
<text transform="translate(516.42,140.09) scale(1.2151,1)" text-anchor="middle" font-size="8.70" fill="#fff" stroke="#fff" stroke-width="0.3">6</text>
<text transform="translate(553.99,140.09) scale(1.2151,1)" text-anchor="middle" font-size="8.70" fill="#fff" stroke="#fff" stroke-width="0.3">6</text>
<text transform="translate(591.55,140.09) scale(1.2151,1)" text-anchor="middle" font-size="8.70" fill="#262626" stroke="#262626" stroke-width="0.3">14</text>
<text transform="translate(629.12,140.09) scale(1.2151,1)" text-anchor="middle" font-size="8.70" fill="#fff" stroke="#fff" stroke-width="0.3">3</text>
<text transform="translate(403.73,162.37) scale(1.2151,1)" text-anchor="middle" font-size="8.70" fill="#262626" stroke="#262626" stroke-width="0.3">7</text>
<text transform="translate(441.30,162.37) scale(1.2151,1)" text-anchor="middle" font-size="8.70" fill="#262626" stroke="#262626" stroke-width="0.3">3</text>
<text transform="translate(478.86,162.37) scale(1.2151,1)" text-anchor="middle" font-size="8.70" fill="#262626" stroke="#262626" stroke-width="0.3">9</text>
<text transform="translate(516.42,162.37) scale(1.2151,1)" text-anchor="middle" font-size="8.70" fill="#262626" stroke="#262626" stroke-width="0.3">18</text>
<text transform="translate(553.99,162.37) scale(1.2151,1)" text-anchor="middle" font-size="8.70" fill="#fff" stroke="#fff" stroke-width="0.3">9</text>
<text transform="translate(591.55,162.37) scale(1.2151,1)" text-anchor="middle" font-size="8.70" fill="#262626" stroke="#262626" stroke-width="0.3">10</text>
<text transform="translate(629.12,162.37) scale(1.2151,1)" text-anchor="middle" font-size="8.70" fill="#262626" stroke="#262626" stroke-width="0.3">6</text>
<text transform="translate(403.73,184.65) scale(1.2151,1)" text-anchor="middle" font-size="8.70" fill="#262626" stroke="#262626" stroke-width="0.3">1</text>
<text transform="translate(441.30,184.65) scale(1.2151,1)" text-anchor="middle" font-size="8.70" fill="#262626" stroke="#262626" stroke-width="0.3">1</text>
<text transform="translate(478.86,184.65) scale(1.2151,1)" text-anchor="middle" font-size="8.70" fill="#262626" stroke="#262626" stroke-width="0.3">13</text>
<text transform="translate(516.42,184.65) scale(1.2151,1)" text-anchor="middle" font-size="8.70" fill="#262626" stroke="#262626" stroke-width="0.3">7</text>
<text transform="translate(553.99,184.65) scale(1.2151,1)" text-anchor="middle" font-size="8.70" fill="#fff" stroke="#fff" stroke-width="0.3">9</text>
<text transform="translate(591.55,184.65) scale(1.2151,1)" text-anchor="middle" font-size="8.70" fill="#262626" stroke="#262626" stroke-width="0.3">7</text>
<text transform="translate(629.12,184.65) scale(1.2151,1)" text-anchor="middle" font-size="8.70" fill="#262626" stroke="#262626" stroke-width="0.3">3</text>
<text transform="translate(403.73,206.93) scale(1.2151,1)" text-anchor="middle" font-size="8.70" fill="#262626" stroke="#262626" stroke-width="0.3">7</text>
<text transform="translate(441.30,206.93) scale(1.2151,1)" text-anchor="middle" font-size="8.70" fill="#262626" stroke="#262626" stroke-width="0.3">1</text>
<text transform="translate(478.86,206.93) scale(1.2151,1)" text-anchor="middle" font-size="8.70" fill="#262626" stroke="#262626" stroke-width="0.3">6</text>
<text transform="translate(516.42,206.93) scale(1.2151,1)" text-anchor="middle" font-size="8.70" fill="#262626" stroke="#262626" stroke-width="0.3">12</text>
<text transform="translate(553.99,206.93) scale(1.2151,1)" text-anchor="middle" font-size="8.70" fill="#262626" stroke="#262626" stroke-width="0.3">3</text>
<text transform="translate(591.55,206.93) scale(1.2151,1)" text-anchor="middle" font-size="8.70" fill="#262626" stroke="#262626" stroke-width="0.3">10</text>
<text transform="translate(629.12,206.93) scale(1.2151,1)" text-anchor="middle" font-size="8.70" fill="#262626" stroke="#262626" stroke-width="0.3">3</text>
<text transform="translate(403.73,229.21) scale(1.2151,1)" text-anchor="middle" font-size="8.70" fill="#262626" stroke="#262626" stroke-width="0.3">3</text>
<text transform="translate(441.30,229.21) scale(1.2151,1)" text-anchor="middle" font-size="8.70" fill="#fff" stroke="#fff" stroke-width="0.3">1</text>
<text transform="translate(478.86,229.21) scale(1.2785,1)" text-anchor="middle" font-size="8.70" fill="#262626" stroke="#262626" stroke-width="0.3">11</text>
<text transform="translate(516.42,229.21) scale(1.2151,1)" text-anchor="middle" font-size="8.70" fill="#262626" stroke="#262626" stroke-width="0.3">13</text>
<text transform="translate(553.99,229.21) scale(1.2151,1)" text-anchor="middle" font-size="8.70" fill="#262626" stroke="#262626" stroke-width="0.3">5</text>
<text transform="translate(591.55,229.21) scale(1.2785,1)" text-anchor="middle" font-size="8.70" fill="#262626" stroke="#262626" stroke-width="0.3">11</text>
<text transform="translate(629.12,229.21) scale(1.2151,1)" text-anchor="middle" font-size="8.70" fill="#262626" stroke="#262626" stroke-width="0.3">4</text>
<text transform="translate(403.73,251.50) scale(1.2151,1)" text-anchor="middle" font-size="8.70" fill="#262626" stroke="#262626" stroke-width="0.3">7</text>
<text transform="translate(441.30,251.50) scale(1.2151,1)" text-anchor="middle" font-size="8.70" fill="#262626" stroke="#262626" stroke-width="0.3">3</text>
<text transform="translate(478.86,251.50) scale(1.2151,1)" text-anchor="middle" font-size="8.70" fill="#262626" stroke="#262626" stroke-width="0.3">22</text>
<text transform="translate(516.42,251.50) scale(1.2151,1)" text-anchor="middle" font-size="8.70" fill="#262626" stroke="#262626" stroke-width="0.3">17</text>
<text transform="translate(553.99,251.50) scale(1.2151,1)" text-anchor="middle" font-size="8.70" fill="#262626" stroke="#262626" stroke-width="0.3">5</text>
<text transform="translate(591.55,251.50) scale(1.2151,1)" text-anchor="middle" font-size="8.70" fill="#262626" stroke="#262626" stroke-width="0.3">13</text>
<text transform="translate(629.12,251.50) scale(1.2151,1)" text-anchor="middle" font-size="8.70" fill="#262626" stroke="#262626" stroke-width="0.3">4</text>
<text transform="translate(403.73,273.78) scale(1.2151,1)" text-anchor="middle" font-size="8.70" fill="#000" stroke="#000" stroke-width="0.3">0</text>
<text transform="translate(441.30,273.78) scale(1.2151,1)" text-anchor="middle" font-size="8.70" fill="#262626" stroke="#262626" stroke-width="0.3">3</text>
<text transform="translate(478.86,273.78) scale(1.2151,1)" text-anchor="middle" font-size="8.70" fill="#262626" stroke="#262626" stroke-width="0.3">10</text>
<text transform="translate(516.42,273.78) scale(1.2151,1)" text-anchor="middle" font-size="8.70" fill="#262626" stroke="#262626" stroke-width="0.3">19</text>
<text transform="translate(553.99,273.78) scale(1.2151,1)" text-anchor="middle" font-size="8.70" fill="#262626" stroke="#262626" stroke-width="0.3">2</text>
<text transform="translate(591.55,273.78) scale(1.2785,1)" text-anchor="middle" font-size="8.70" fill="#262626" stroke="#262626" stroke-width="0.3">11</text>
<text transform="translate(629.12,273.78) scale(1.2151,1)" text-anchor="middle" font-size="8.70" fill="#262626" stroke="#262626" stroke-width="0.3">4</text>
<text transform="translate(403.73,296.06) scale(1.2151,1)" text-anchor="middle" font-size="8.70" fill="#fff" stroke="#fff" stroke-width="0.3">23</text>
<text transform="translate(441.30,296.06) scale(1.2151,1)" text-anchor="middle" font-size="8.70" fill="#fff" stroke="#fff" stroke-width="0.3">8</text>
<text transform="translate(478.86,296.06) scale(1.2151,1)" text-anchor="middle" font-size="8.70" fill="#fff" stroke="#fff" stroke-width="0.3">9</text>
<text transform="translate(516.42,296.06) scale(1.2151,1)" text-anchor="middle" font-size="8.70" fill="#fff" stroke="#fff" stroke-width="0.3">5</text>
<text transform="translate(553.99,296.06) scale(1.2151,1)" text-anchor="middle" font-size="8.70" fill="#262626" stroke="#262626" stroke-width="0.3">8</text>
<text transform="translate(591.55,296.06) scale(1.2151,1)" text-anchor="middle" font-size="8.70" fill="#fff" stroke="#fff" stroke-width="0.3">10</text>
<text transform="translate(629.12,296.06) scale(1.2151,1)" text-anchor="middle" font-size="8.70" fill="#fff" stroke="#fff" stroke-width="0.3">2</text>
<polyline points="59.2,236.4 96.8,231.9 134.4,218.5 172.0,154.2 209.6,140.5 247.2,181.9 284.8,121.1" fill="none" stroke="#ff0000" stroke-width="1.45" stroke-linejoin="miter" stroke-linecap="butt"/>
<polyline points="403.7,145.9 441.9,136.3 478.8,200.5 516.3,214.9 553.9,243.6 591.5,195.5 629.0,211.9" fill="none" stroke="#a6a6a6" stroke-width="1.45" stroke-linejoin="miter" stroke-linecap="butt"/>
<text transform="translate(34.55,74.35) scale(1.2377,1)" text-anchor="end" font-size="8.70" fill="#000" stroke="#000" stroke-width="0.3">1.0</text>
<text transform="translate(34.55,98.86) scale(1.2377,1)" text-anchor="end" font-size="8.70" fill="#000" stroke="#000" stroke-width="0.3">0.9</text>
<text transform="translate(34.55,123.38) scale(1.2377,1)" text-anchor="end" font-size="8.70" fill="#000" stroke="#000" stroke-width="0.3">0.8</text>
<text transform="translate(34.55,147.89) scale(1.2377,1)" text-anchor="end" font-size="8.70" fill="#000" stroke="#000" stroke-width="0.3">0.7</text>
<text transform="translate(34.55,172.40) scale(1.2377,1)" text-anchor="end" font-size="8.70" fill="#000" stroke="#000" stroke-width="0.3">0.6</text>
<text transform="translate(34.55,196.91) scale(1.2377,1)" text-anchor="end" font-size="8.70" fill="#000" stroke="#000" stroke-width="0.3">0.5</text>
<text transform="translate(34.55,221.41) scale(1.2377,1)" text-anchor="end" font-size="8.70" fill="#000" stroke="#000" stroke-width="0.3">0.4</text>
<text transform="translate(34.55,245.93) scale(1.2377,1)" text-anchor="end" font-size="8.70" fill="#000" stroke="#000" stroke-width="0.3">0.3</text>
<text transform="translate(34.55,270.44) scale(1.2377,1)" text-anchor="end" font-size="8.70" fill="#000" stroke="#000" stroke-width="0.3">0.2</text>
<text transform="translate(34.55,294.95) scale(1.2377,1)" text-anchor="end" font-size="8.70" fill="#000" stroke="#000" stroke-width="0.3">0.1</text>
<text transform="translate(379.05,73.24) scale(1.2377,1)" text-anchor="end" font-size="8.70" fill="#000" stroke="#000" stroke-width="0.3">1.0</text>
<text transform="translate(379.05,95.52) scale(1.2377,1)" text-anchor="end" font-size="8.70" fill="#000" stroke="#000" stroke-width="0.3">0.9</text>
<text transform="translate(379.05,117.80) scale(1.2377,1)" text-anchor="end" font-size="8.70" fill="#000" stroke="#000" stroke-width="0.3">0.8</text>
<text transform="translate(379.05,140.09) scale(1.2377,1)" text-anchor="end" font-size="8.70" fill="#000" stroke="#000" stroke-width="0.3">0.7</text>
<text transform="translate(379.05,162.37) scale(1.2377,1)" text-anchor="end" font-size="8.70" fill="#000" stroke="#000" stroke-width="0.3">0.6</text>
<text transform="translate(379.05,184.65) scale(1.2377,1)" text-anchor="end" font-size="8.70" fill="#000" stroke="#000" stroke-width="0.3">0.5</text>
<text transform="translate(379.05,206.93) scale(1.2377,1)" text-anchor="end" font-size="8.70" fill="#000" stroke="#000" stroke-width="0.3">0.4</text>
<text transform="translate(379.05,229.21) scale(1.2377,1)" text-anchor="end" font-size="8.70" fill="#000" stroke="#000" stroke-width="0.3">0.3</text>
<text transform="translate(379.05,251.50) scale(1.2377,1)" text-anchor="end" font-size="8.70" fill="#000" stroke="#000" stroke-width="0.3">0.2</text>
<text transform="translate(379.05,273.78) scale(1.2377,1)" text-anchor="end" font-size="8.70" fill="#000" stroke="#000" stroke-width="0.3">0.1</text>
<text transform="translate(379.05,296.06) scale(1.2377,1)" text-anchor="end" font-size="8.70" fill="#000" stroke="#000" stroke-width="0.3">0.0</text>
<text transform="translate(309.50,308.10) scale(1.2151,1)" text-anchor="start" font-size="8.70" fill="#ff0000" stroke="#ff0000" stroke-width="0.3">200</text>
<text transform="translate(309.50,277.46) scale(1.2151,1)" text-anchor="start" font-size="8.70" fill="#ff0000" stroke="#ff0000" stroke-width="0.3">225</text>
<text transform="translate(309.50,246.82) scale(1.2151,1)" text-anchor="start" font-size="8.70" fill="#ff0000" stroke="#ff0000" stroke-width="0.3">250</text>
<text transform="translate(309.50,216.19) scale(1.2151,1)" text-anchor="start" font-size="8.70" fill="#ff0000" stroke="#ff0000" stroke-width="0.3">275</text>
<text transform="translate(309.50,185.55) scale(1.2151,1)" text-anchor="start" font-size="8.70" fill="#ff0000" stroke="#ff0000" stroke-width="0.3">300</text>
<text transform="translate(309.50,154.91) scale(1.2151,1)" text-anchor="start" font-size="8.70" fill="#ff0000" stroke="#ff0000" stroke-width="0.3">325</text>
<text transform="translate(309.50,124.28) scale(1.2151,1)" text-anchor="start" font-size="8.70" fill="#ff0000" stroke="#ff0000" stroke-width="0.3">350</text>
<text transform="translate(309.50,93.64) scale(1.2151,1)" text-anchor="start" font-size="8.70" fill="#ff0000" stroke="#ff0000" stroke-width="0.3">375</text>
<text transform="translate(309.50,63.00) scale(1.2151,1)" text-anchor="start" font-size="8.70" fill="#ff0000" stroke="#ff0000" stroke-width="0.3">400</text>
<text transform="translate(653.80,308.10) scale(1.2765,1)" text-anchor="start" font-size="8.70" fill="#808080" stroke="#808080" stroke-width="0.15">−30</text>
<text transform="translate(653.80,267.25) scale(1.2765,1)" text-anchor="start" font-size="8.70" fill="#808080" stroke="#808080" stroke-width="0.15">−25</text>
<text transform="translate(653.80,226.40) scale(1.2765,1)" text-anchor="start" font-size="8.70" fill="#808080" stroke="#808080" stroke-width="0.15">−20</text>
<text transform="translate(653.80,185.55) scale(1.2765,1)" text-anchor="start" font-size="8.70" fill="#808080" stroke="#808080" stroke-width="0.15">−15</text>
<text transform="translate(653.80,144.70) scale(1.2765,1)" text-anchor="start" font-size="8.70" fill="#808080" stroke="#808080" stroke-width="0.15">−10</text>
<text transform="translate(653.80,103.85) scale(1.3065,1)" text-anchor="start" font-size="8.70" fill="#808080" stroke="#808080" stroke-width="0.15">−5</text>
<text transform="translate(653.80,63.00) scale(1.2151,1)" text-anchor="start" font-size="8.70" fill="#808080" stroke="#808080" stroke-width="0.15">0</text>
<text transform="translate(59.25,317.40) scale(1.0874,1)" text-anchor="middle" font-size="8.95" fill="#000" stroke="#000" stroke-width="0.3">Nov</text>
<text transform="translate(403.73,317.40) scale(1.0874,1)" text-anchor="middle" font-size="8.95" fill="#000" stroke="#000" stroke-width="0.3">Nov</text>
<text transform="translate(96.84,317.40) scale(1.0813,1)" text-anchor="middle" font-size="8.95" fill="#000" stroke="#000" stroke-width="0.3">Dec</text>
<text transform="translate(441.30,317.40) scale(1.0813,1)" text-anchor="middle" font-size="8.95" fill="#000" stroke="#000" stroke-width="0.3">Dec</text>
<text transform="translate(134.43,317.40) scale(0.9637,1)" text-anchor="middle" font-size="8.95" fill="#000" stroke="#000" stroke-width="0.3">Jan</text>
<text transform="translate(478.86,317.40) scale(0.9637,1)" text-anchor="middle" font-size="8.95" fill="#000" stroke="#000" stroke-width="0.3">Jan</text>
<text transform="translate(172.03,317.40) scale(1.0815,1)" text-anchor="middle" font-size="8.95" fill="#000" stroke="#000" stroke-width="0.3">Feb</text>
<text transform="translate(516.42,317.40) scale(1.0815,1)" text-anchor="middle" font-size="8.95" fill="#000" stroke="#000" stroke-width="0.3">Feb</text>
<text transform="translate(209.62,317.40) scale(1.1484,1)" text-anchor="middle" font-size="8.95" fill="#000" stroke="#000" stroke-width="0.3">Mar</text>
<text transform="translate(553.99,317.40) scale(1.1484,1)" text-anchor="middle" font-size="8.95" fill="#000" stroke="#000" stroke-width="0.3">Mar</text>
<text transform="translate(247.21,317.40) scale(1.0871,1)" text-anchor="middle" font-size="8.95" fill="#000" stroke="#000" stroke-width="0.3">Apr</text>
<text transform="translate(591.55,317.40) scale(1.0871,1)" text-anchor="middle" font-size="8.95" fill="#000" stroke="#000" stroke-width="0.3">Apr</text>
<text transform="translate(284.80,317.40) scale(1.1119,1)" text-anchor="middle" font-size="8.95" fill="#000" stroke="#000" stroke-width="0.3">May</text>
<text transform="translate(629.12,317.40) scale(1.1119,1)" text-anchor="middle" font-size="8.95" fill="#000" stroke="#000" stroke-width="0.3">May</text>
<text transform="translate(172.03,328.35) scale(1.1285,1)" text-anchor="middle" font-size="8.95" fill="#000" stroke="#000" stroke-width="0.3">Month</text>
<text transform="translate(516.42,328.35) scale(1.1285,1)" text-anchor="middle" font-size="8.95" fill="#000" stroke="#000" stroke-width="0.3">Month</text>
<text transform="translate(14.30,182.45) rotate(-90) scale(1.1310,1)" text-anchor="middle" font-size="8.95" fill="#000" stroke="#000" stroke-width="0.3">Normalized height</text>
<text transform="translate(358.60,182.45) rotate(-90) scale(1.1310,1)" text-anchor="middle" font-size="8.95" fill="#000" stroke="#000" stroke-width="0.3">Normalized height</text>
<text transform="translate(-0.40,8.10) scale(1.2363,1)" text-anchor="start" font-size="10.81" fill="#000" stroke="#000" stroke-width="0.3">a)</text>
<text transform="translate(344.10,8.10) scale(1.2069,1)" text-anchor="start" font-size="10.81" fill="#000" stroke="#000" stroke-width="0.3">b)</text>
<text transform="translate(171.70,12.50) scale(1.1609,1)" text-anchor="middle" font-size="8.95" fill="#000" stroke="#000" stroke-width="0.3" xml:space="preserve"><tspan font-style="italic" font-weight="normal" stroke-width="0">ρ</tspan><tspan> (kg m</tspan><tspan dy="-2.7" dx="0.4" font-size="6.26">−3</tspan><tspan dy="2.7">)</tspan></text>
<text transform="translate(516.00,12.50) scale(1.2286,1)" text-anchor="middle" font-size="8.95" fill="#000" stroke="#000" stroke-width="0.3" xml:space="preserve"><tspan font-style="italic" font-weight="normal" stroke-width="0">δ</tspan><tspan dy="-2.7" dx="0.4" font-size="6.26">18</tspan><tspan dy="2.7">O (‰)</tspan></text>
<text transform="translate(338.30,182.70) rotate(-90) scale(1.1468,1)" text-anchor="middle" font-size="8.95" fill="#ff0000" stroke="#ff0000" stroke-width="0.3" xml:space="preserve"><tspan>Mean </tspan><tspan font-style="italic" font-weight="normal" stroke-width="0">ρ</tspan><tspan> (kg m</tspan><tspan dy="-2.7" dx="0.4" font-size="6.26">−3</tspan><tspan dy="2.7">)</tspan></text>
<text transform="translate(683.90,182.30) rotate(-90) scale(1.1676,1)" text-anchor="middle" font-size="8.95" fill="#808080" stroke="#808080" stroke-width="0.15" xml:space="preserve"><tspan>Mean </tspan><tspan font-style="italic" font-weight="normal" stroke-width="0">δ</tspan><tspan dy="-2.7" dx="0.4" font-size="6.26">18</tspan><tspan dy="2.7">O (‰)</tspan></text>
</svg>
</body></html>
